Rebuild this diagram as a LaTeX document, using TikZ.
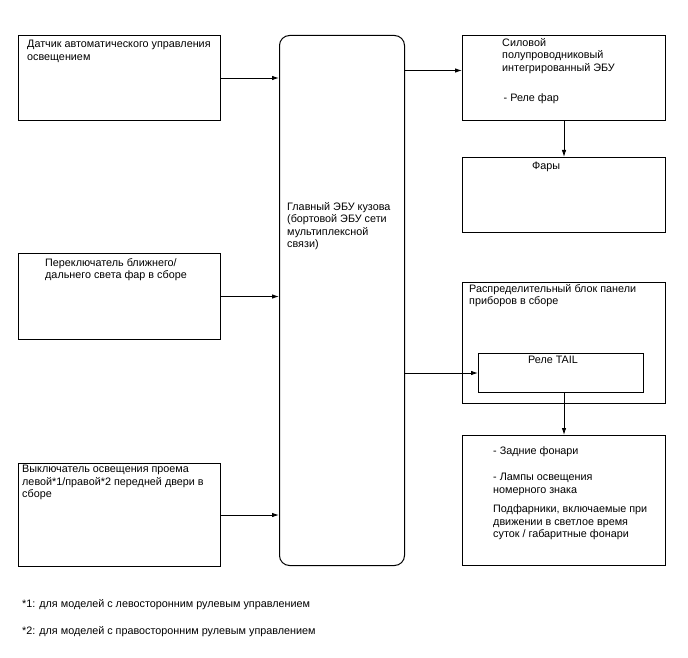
\documentclass[tikz,border=0pt]{standalone}
\usepackage{fontspec}
\setmainfont{Liberation Sans}
\usetikzlibrary{arrows.meta}
\begin{document}
\begin{tikzpicture}[x=1pt,y=-1pt,
  box/.style={draw,line width=1pt,inner sep=0,anchor=north west},
  txt/.style={anchor=north west,inner sep=0,align=left,font=\fontsize{10.8}{12.5}\selectfont},
  arr/.style={line width=0.9pt,-{Latex[length=7pt,width=4.5pt]}}]
\useasboundingbox (0,0) rectangle (688,658);
% boxes
\node[box,minimum width=202pt,minimum height=85pt] (s1) at (18,35) {};
\node[box,minimum width=125pt,minimum height=530pt,rounded corners=10pt] (ecu) at (279,35) {};
\node[box,minimum width=202pt,minimum height=86pt] (s2) at (18,253) {};
\node[box,minimum width=202pt,minimum height=103pt] (s3) at (18,463) {};
\node[box,minimum width=203pt,minimum height=85pt] (pecu) at (462,35) {};
\node[box,minimum width=203pt,minimum height=75pt] (fary) at (462,157) {};
\node[box,minimum width=203pt,minimum height=121pt] (dist) at (462,282) {};
\node[box,minimum width=165pt,minimum height=39pt] (tail) at (478,353) {};
\node[box,minimum width=203pt,minimum height=130pt] (lamps) at (462,435) {};
% texts
\node[txt] (t1) at (27,40) {Датчик автоматического управления\\освещением};
\node[txt] (t2) at (45,258) {Переключатель ближнего/\\дальнего света фар в сборе};
\node[txt] (t3) at (22,465) {Выключатель освещения проема\\левой*1/правой*2 передней двери в\\сборе};
\node[txt] (tecu) at (287,202) {Главный ЭБУ кузова\\(бортовой ЭБУ сети\\мультиплексной\\связи)};
\node[txt] (tp) at (502,38) {Силовой\\полупроводниковый\\интегрированный ЭБУ\\[18pt]\hspace{1.5pt}- Реле фар};
\node[txt] (tf) at (532,162) {Фары};
\node[txt] (td) at (469,284) {Распределительный блок панели\\приборов в сборе};
\node[txt] (tt) at (528,356) {Реле TAIL};
\node[txt] (tl) at (493,446) {- Задние фонари\\[14pt]- Лампы освещения\\номерного знака\\[7pt]Подфарники, включаемые при\\движении в светлое время\\суток / габаритные фонари};
\node[txt] (n1) at (22,599) {*1: для моделей с левосторонним рулевым управлением};
\node[txt] (n2) at (22,626) {*2: для моделей с правосторонним рулевым управлением};
% connectors
\draw[arr] (s1.east) -- (s1.east -| ecu.west);
\draw[arr] (s2.east) -- (s2.east -| ecu.west);
\draw[arr] (s3.east) -- (s3.east -| ecu.west);
\coordinate (a1) at ([yshift=7.5pt]pecu.west);
\draw[arr] (a1 -| ecu.east) -- (a1);
\draw[arr] (pecu.south) -- (fary.north);
\draw[arr] (tail.west -| ecu.east) -- (tail.west);
\draw[arr] (tail.south -| lamps.north) -- (lamps.north);
\end{tikzpicture}
\end{document}
